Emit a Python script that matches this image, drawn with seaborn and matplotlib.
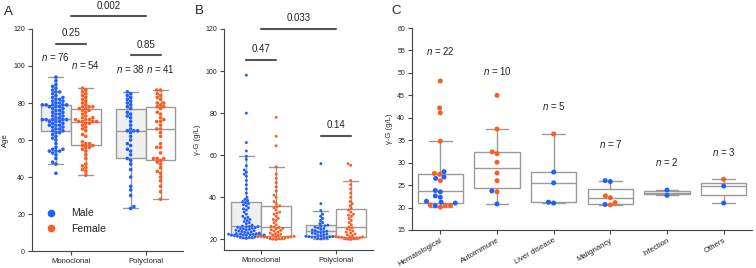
import matplotlib
matplotlib.use("Agg")
import matplotlib.pyplot as plt
from matplotlib.lines import Line2D
import pandas as pd
import seaborn as sns

# ---- data ----
groups = ["Monoclonal", "Polyclonal"]
sexes = ["Male", "Female"]

age_mono_male = [42, 47, 48, 50, 52, 53, 54, 54, 54, 55, 55, 56, 58, 60, 61, 62, 63, 64, 64,
                 65, 65, 66, 66, 67, 67, 68, 68, 68, 69, 69, 70, 70, 70, 71, 71, 71, 71, 71,
                 72, 72, 73, 73, 74, 74, 75, 75, 76, 76, 77, 77, 78, 78, 78, 79, 79, 79, 79,
                 79, 80, 80, 81, 81, 82, 82, 83, 83, 84, 85, 86, 86, 87, 88, 89, 90, 92, 94]
age_mono_female = [41, 43, 44, 45, 46, 47, 50, 52, 54, 55, 56, 56, 57,
                   57, 58, 58, 59, 62, 63, 65, 66, 67, 68, 69, 69, 70,
                   70, 70, 70, 71, 71, 71, 72, 72, 73, 74, 75, 76, 76, 77,
                   77, 78, 78, 78, 79, 80, 81, 82, 83, 84, 85, 86, 87, 88]
age_poly_male = [23, 24, 30, 33, 35, 40, 44, 47, 49,
                 50, 52, 54, 55, 57, 58, 60, 62, 64, 65,
                 65, 65, 66, 68, 70, 72, 73, 74, 75, 77,
                 78, 79, 80, 81, 82, 83, 84, 85, 86]
age_poly_female = [28, 32, 35, 38, 40, 42, 43, 45, 47, 48,
                   49, 50, 50, 50, 53, 56, 56, 58, 62, 64, 66,
                   66, 68, 70, 70, 71, 72, 74, 75, 77, 78,
                   78, 79, 80, 80, 82, 83, 84, 85, 87, 87]

igg_mono_male = [20.5, 20.8, 21, 21, 21.2, 21.3, 21.5, 21.5, 21.7, 21.8, 22, 22, 22.1, 22.2, 22.3,
                 22.4, 22.5, 22.6, 22.7, 22.8, 23, 23.2, 23.4, 23.6, 23.8, 24, 24.2, 24.4, 24.6,
                 24.8, 25, 25.2, 25.4, 25.6, 25.8, 26, 26.1, 26.2, 26.3, 26.8, 27.5, 28, 28.5,
                 29, 29.5, 30, 30.5, 31, 32, 33, 34, 34.5, 35, 36, 36.5, 37, 37.5, 38, 38.5, 39,
                 40, 42, 44, 46, 48, 50, 51, 52, 53, 55, 58, 59.5, 62, 66, 80, 98]
igg_mono_female = [20, 20.2, 20.4, 20.5, 20.6, 20.8, 20.9, 21, 21.1, 21.2, 21.3, 21.4, 21.5,
                   21.6, 21.9, 22.2, 22.5, 22.8, 23, 23.5, 24, 24.3, 24.6, 25, 25.3, 25.7, 26,
                   26.2, 27, 28, 29, 29.5, 30, 31, 32, 32.5, 33, 34, 35, 35.5,
                   36, 37, 38, 40, 41, 43, 45, 47, 49, 51, 54.5, 64.5, 69, 78]
igg_poly_male = [20.3, 20.5, 20.7, 20.8, 21, 21.1, 21.2, 21.3, 21.4,
                 21.5, 21.8, 22, 22.3, 22.5, 22.8, 23, 23.2, 23.5, 23.7,
                 23.9, 24.2, 24.5, 24.8, 25.2, 25.5, 25.8, 26.2, 26.5,
                 26.8, 27.5, 28, 29, 30, 31, 32, 33.7, 37, 56]
igg_poly_female = [20, 20.2, 20.4, 20.6, 20.7, 20.8, 21, 21.1, 21.2, 21.3,
                   21.4, 21.8, 22.2, 22.6, 23, 23.5, 24, 24.5, 25, 25.5,
                   26, 27, 28, 29, 30, 31, 31.5, 32, 33, 34,
                   34.7, 36, 37, 38, 40, 42, 44, 46, 48, 55.2, 56]

categories = ["Hematological", "Autoimmune", "Liver disease", "Malignancy", "Infection", "Others"]
c_hema = [48.2, 42.2, 41.1, 34.8, 27.6, 27.4, 26.0, 20.6, 20.5, 20.5, 20.1,
          28.0, 26.8, 26.5, 23.8, 23.5, 22.6, 22.3, 21.4, 21.2, 21.0, 20.4]
c_hema_sex = ["F"] * 11 + ["M"] * 11
c_auto = [45.0, 37.5, 32.4, 32.0, 30.1, 27.7, 26.0, 23.5, 23.7, 20.8]
c_auto_sex = ["F"] * 8 + ["M", "M"]
c_liver = [36.4, 27.9, 25.5, 21.2, 21.0]
c_liver_sex = ["F", "M", "M", "M", "M"]
c_malig = [26.0, 25.8, 22.6, 22.2, 21.1, 20.6, 20.7]
c_malig_sex = ["M", "M", "F", "F", "F", "F", "M"]
c_infec = [23.9, 22.7]
c_infec_sex = ["M", "M"]
c_other = [26.3, 24.8, 21.0]
c_other_sex = ["F", "M", "M"]

blue = "#1f5fff"
orange = "#ff5b1f"
grey = "#9a9a9a"


def long_df(values):
    rows = []
    for (g, s), v in values.items():
        rows += [(g, s, x) for x in v]
    return pd.DataFrame(rows, columns=["group", "sex", "value"])


age = long_df({("Monoclonal", "Male"): age_mono_male, ("Monoclonal", "Female"): age_mono_female,
               ("Polyclonal", "Male"): age_poly_male, ("Polyclonal", "Female"): age_poly_female})
igg = long_df({("Monoclonal", "Male"): igg_mono_male, ("Monoclonal", "Female"): igg_mono_female,
               ("Polyclonal", "Male"): igg_poly_male, ("Polyclonal", "Female"): igg_poly_female})

c_vals = [c_hema, c_auto, c_liver, c_malig, c_infec, c_other]
c_sex = [c_hema_sex, c_auto_sex, c_liver_sex, c_malig_sex, c_infec_sex, c_other_sex]
cdf = pd.DataFrame([(cat, s, v) for cat, vs, ss in zip(categories, c_vals, c_sex) for v, s in zip(vs, ss)],
                   columns=["cat", "sex", "value"])

# ---- style ----
sns.set_style("ticks")
plt.rcParams["font.family"] = ["Liberation Sans", "DejaVu Sans"]
plt.rcParams["mathtext.fontset"] = "custom"
plt.rcParams["mathtext.it"] = "Liberation Sans:italic"
plt.rcParams["mathtext.rm"] = "Liberation Sans"
plt.rcParams["axes.edgecolor"] = "#444444"
plt.rcParams["axes.linewidth"] = 0.8
plt.rcParams["xtick.color"] = "#444444"
plt.rcParams["ytick.color"] = "#444444"
plt.rcParams["xtick.labelcolor"] = "#222222"
plt.rcParams["ytick.labelcolor"] = "#222222"

fig = plt.figure(figsize=(7.56, 2.68), dpi=100)
axA = fig.add_axes([0.0423, 0.0634, 0.1997, 0.8284])
axB = fig.add_axes([0.2963, 0.0672, 0.1971, 0.825])
axC = fig.add_axes([0.545, 0.1418, 0.4497, 0.7537])

box_kw = dict(order=groups, hue_order=sexes, showfliers=False, width=0.8, gap=0,
              linecolor=grey, linewidth=1, legend=False,
              palette={"Male": "#efefef", "Female": "white"})
sw_kw = dict(order=groups, hue_order=sexes, dodge=True, legend=False,
             palette={"Male": blue, "Female": orange}, linewidth=0)

sns.boxplot(data=age, x="group", y="value", hue="sex", ax=axA, **box_kw)
sns.swarmplot(data=age, x="group", y="value", hue="sex", ax=axA, size=2.6, **sw_kw)
sns.boxplot(data=igg, x="group", y="value", hue="sex", ax=axB, **box_kw)
sns.swarmplot(data=igg, x="group", y="value", hue="sex", ax=axB, size=2.1, **sw_kw)

sns.boxplot(data=cdf, x="cat", y="value", order=categories, color="white", linecolor=grey,
            linewidth=1, showfliers=False, width=0.8, ax=axC)
sns.swarmplot(data=cdf, x="cat", y="value", hue="sex", order=categories, hue_order=["M", "F"],
              palette={"M": blue, "F": orange}, size=3.6, linewidth=0, legend=False, ax=axC)

for ax in (axA, axB, axC):
    sns.despine(ax=ax)
    ax.set_xlabel("")
    ax.tick_params(axis="y", labelsize=5, length=3, width=0.8, pad=2)
    ax.tick_params(axis="x", labelsize=5.5, length=3, width=0.8, pad=2)

axA.set_ylim(0, 120)
axA.set_yticks(range(0, 121, 20))
axA.set_xlim(-0.52, 1.5)
axA.set_ylabel("Age", fontsize=5.5, labelpad=3)
axB.set_ylim(15, 120)
axB.set_yticks(range(20, 121, 20))
axB.set_xlim(-0.5, 1.5)
axB.set_ylabel("γ-G (g/L)", fontsize=5.5, labelpad=3)
axC.set_ylim(15, 60)
axC.set_yticks(range(15, 61, 5))
axC.set_xlim(-0.5, 5.5)
axC.set_ylabel("γ-G (g/L)", fontsize=5.5, labelpad=3)
plt.setp(axC.get_xticklabels(), rotation=30, ha="right", rotation_mode="anchor", fontsize=5.6)

line_kw = dict(color="#555555", lw=1.5, clip_on=False)
txt_kw = dict(ha="center", va="center", fontsize=7, color="#222222", clip_on=False)


def bracket(ax, x0, x1, y, ty, label):
    ax.plot([x0, x1], [y, y], **line_kw)
    ax.text((x0 + x1) / 2, ty, label, **txt_kw)


bracket(axA, 0, 1, 127, 132.5, "0.002")
bracket(axA, -0.2, 0.2, 112, 117.7, "0.25")
bracket(axA, 0.8, 1.2, 106, 111.5, "0.85")
for x, y, n in [(-0.2, 105, 76), (0.2, 100.5, 54), (0.8, 98.4, 38), (1.2, 98.4, 41)]:
    axA.text(x, y, f"$n$ = {n}", **txt_kw)

bracket(axB, 0, 1, 120, 125.2, "0.033")
bracket(axB, -0.2, 0.2, 105.3, 110.5, "0.47")
bracket(axB, 0.8, 1.2, 69.3, 74.5, "0.14")

for i, (y, vs) in enumerate(zip([54.9, 50.4, 42.6, 34.2, 30.1, 32.4], c_vals)):
    axC.text(i, y, f"$n$ = {len(vs)}", **txt_kw)

handles = [Line2D([], [], marker="o", ls="", color=blue, markersize=4.5, label="Male"),
           Line2D([], [], marker="o", ls="", color=orange, markersize=4.5, label="Female")]
axA.legend(handles=handles, loc="lower left", bbox_to_anchor=(0.03, 0.06), frameon=False,
           fontsize=7.5, handletextpad=0.9, labelspacing=0.5, borderaxespad=0)

for x, y, s in [(0.005, 0.955, "A"), (0.258, 0.959, "B"), (0.518, 0.959, "C")]:
    fig.text(x, y, s, fontsize=9.5, ha="left", va="center")

fig.savefig("out.png", dpi=100)
